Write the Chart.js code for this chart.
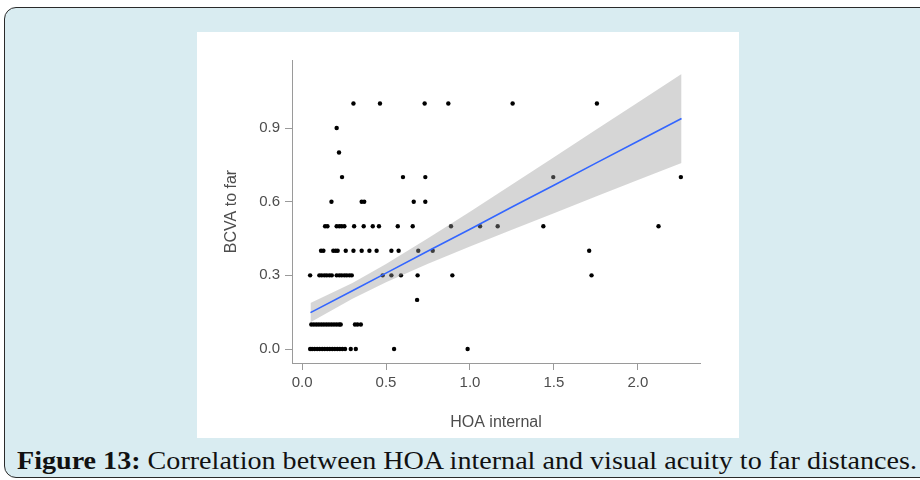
<!DOCTYPE html>
<html>
<head>
<meta charset="utf-8">
<script src="https://cdn.jsdelivr.net/npm/chart.js@4.4.1/dist/chart.umd.min.js"></script>
<style>
  html, body { margin: 0; padding: 0; background: #fff; }
  body { width: 920px; height: 480px; position: relative; overflow: hidden; }
  #frame {
    position: absolute; left: 4px; top: 7px; width: 960px; height: 469px;
    background: #d9ecf1; border: 1.5px solid #2a2a2a; border-radius: 12px;
  }
  #panel {
    position: absolute; left: 197px; top: 32px; width: 542px; height: 406px;
    background: #fff;
  }
  #caption {
    position: absolute; left: 17px; top: 447px; white-space: nowrap;
    font-family: "Liberation Serif", "Times New Roman", serif; font-size: 25px; color: #111;
    transform-origin: 0 0;
  }
  #caption b { font-weight: bold; }
</style>
</head>
<body>
<div id="frame"></div>
<div id="panel"><canvas id="scatter-canvas" width="542" height="406"></canvas></div>
<div id="caption"><b>Figure 13:</b> Correlation between HOA internal and visual acuity to far distances.</div>
<script>
// HOA internal (x) and BCVA to far (y), one row per acuity level
const hoaInternal = [
  0.306, 0.464, 0.730, 0.871, 1.254, 1.756,
  0.206,
  0.220,
  0.238, 0.601, 0.734, 1.496, 2.256,
  0.175, 0.355, 0.370, 0.665, 0.734,
  0.137, 0.151, 0.206, 0.222, 0.236, 0.252, 0.310, 0.367, 0.421, 0.458, 0.570, 0.659, 0.887, 1.060, 1.165, 1.437, 2.123,
  0.113, 0.127, 0.186, 0.200, 0.212, 0.260, 0.306, 0.355, 0.401, 0.444, 0.532, 0.575, 0.692, 0.778, 1.710,
  0.048, 0.103, 0.117, 0.133, 0.147, 0.163, 0.177, 0.206, 0.222, 0.236, 0.252, 0.266, 0.282, 0.296, 0.480, 0.532, 0.589, 0.688, 0.895, 1.724,
  0.685,
  0.055, 0.070, 0.085, 0.100, 0.115, 0.130, 0.145, 0.160, 0.175, 0.190, 0.205, 0.220, 0.230, 0.315, 0.330, 0.350,
  0.048, 0.060, 0.075, 0.090, 0.105, 0.120, 0.135, 0.150, 0.165, 0.180, 0.195, 0.210, 0.225, 0.240, 0.256, 0.290, 0.320, 0.548, 0.986
];
const bcvaFar = [
  1.0, 1.0, 1.0, 1.0, 1.0, 1.0,
  0.9,
  0.8,
  0.7, 0.7, 0.7, 0.7, 0.7,
  0.6, 0.6, 0.6, 0.6, 0.6,
  0.5, 0.5, 0.5, 0.5, 0.5, 0.5, 0.5, 0.5, 0.5, 0.5, 0.5, 0.5, 0.5, 0.5, 0.5, 0.5, 0.5,
  0.4, 0.4, 0.4, 0.4, 0.4, 0.4, 0.4, 0.4, 0.4, 0.4, 0.4, 0.4, 0.4, 0.4, 0.4,
  0.3, 0.3, 0.3, 0.3, 0.3, 0.3, 0.3, 0.3, 0.3, 0.3, 0.3, 0.3, 0.3, 0.3, 0.3, 0.3, 0.3, 0.3, 0.3, 0.3,
  0.2,
  0.1, 0.1, 0.1, 0.1, 0.1, 0.1, 0.1, 0.1, 0.1, 0.1, 0.1, 0.1, 0.1, 0.1, 0.1, 0.1,
  0.0, 0.0, 0.0, 0.0, 0.0, 0.0, 0.0, 0.0, 0.0, 0.0, 0.0, 0.0, 0.0, 0.0, 0.0, 0.0, 0.0, 0.0, 0.0
];

// linear fit with its confidence band
const fitX     = [0.05, 0.30, 0.50, 0.75, 1.00, 1.25, 1.50, 1.75, 2.00, 2.26];
const fitY     = [0.148, 0.237, 0.309, 0.399, 0.488, 0.578, 0.667, 0.757, 0.846, 0.939];
const bandHigh = [0.187, 0.269, 0.346, 0.451, 0.559, 0.670, 0.781, 0.893, 1.004, 1.120];
const bandLow  = [0.109, 0.205, 0.272, 0.347, 0.417, 0.486, 0.553, 0.621, 0.688, 0.758];

const xTicks = [0, 0.5, 1.0, 1.5, 2.0];
const yTicks = [0, 0.3, 0.6, 0.9];

const pts = (xs, ys) => xs.map((x, i) => ({ x: x, y: ys[i] }));

const axisGrey = '#9a9a9a';
const labelGrey = '#4d4d4d';
const tickFont = { family: "'Liberation Sans', Arial, sans-serif", size: 15 };
const titleFont = { family: "'Liberation Sans', Arial, sans-serif", size: 16 };

const ctx = document.getElementById('scatter-canvas').getContext('2d');
new Chart(ctx, {
  type: 'scatter',
  data: {
    datasets: [
      {
        label: 'fit',
        data: pts(fitX, fitY),
        showLine: true,
        borderColor: '#3366ff',
        borderWidth: 1.6,
        pointRadius: 0,
        order: 0
      },
      {
        label: 'upper',
        data: pts(fitX, bandHigh),
        showLine: true,
        borderWidth: 0,
        borderColor: 'rgba(0,0,0,0)',
        backgroundColor: 'rgba(153,153,153,0.4)',
        fill: '+1',
        pointRadius: 0,
        order: 1
      },
      {
        label: 'lower',
        data: pts(fitX, bandLow),
        showLine: true,
        borderWidth: 0,
        borderColor: 'rgba(0,0,0,0)',
        pointRadius: 0,
        order: 1
      },
      {
        label: 'patients',
        data: pts(hoaInternal, bcvaFar),
        pointRadius: 2.2,
        pointBackgroundColor: '#000',
        pointBorderWidth: 0,
        order: 2
      }
    ]
  },
  options: {
    responsive: false,
    animation: false,
    layout: { padding: { left: 0, top: 28, right: 39, bottom: 0 } },
    plugins: { legend: { display: false }, tooltip: { enabled: false } },
    scales: {
      x: {
        type: 'linear',
        min: -0.06,
        max: 2.37,
        afterBuildTicks: s => { s.ticks = xTicks.map(v => ({ value: v })); },
        afterFit: s => { s.height = 75; },
        grid: { drawOnChartArea: false, drawTicks: true, tickLength: 7, color: axisGrey },
        border: { display: true, color: axisGrey, width: 1 },
        ticks: { color: labelGrey, font: tickFont, padding: 4, maxRotation: 0,
                 callback: v => Number(v).toFixed(1) },
        title: { display: true, text: 'HOA internal', color: labelGrey, font: titleFont,
                 padding: { top: 0, bottom: 6 } }
      },
      y: {
        type: 'linear',
        min: -0.057,
        max: 1.177,
        afterBuildTicks: s => { s.ticks = yTicks.map(v => ({ value: v })); },
        afterFit: s => { s.width = 95; },
        grid: { drawOnChartArea: false, drawTicks: true, tickLength: 7, color: axisGrey },
        border: { display: true, color: axisGrey, width: 1 },
        ticks: { color: labelGrey, font: tickFont, padding: 5,
                 callback: v => Number(v).toFixed(1) },
        title: { display: true, text: 'BCVA to far', color: labelGrey, font: titleFont,
                 padding: { top: 25, bottom: 0 } }
      }
    }
  }
});

// stretch the caption across the frame
const cap = document.getElementById('caption');
const w = cap.getBoundingClientRect().width;
cap.style.transform = 'scaleX(' + (900 / w) + ')';
</script>
</body>
</html>
